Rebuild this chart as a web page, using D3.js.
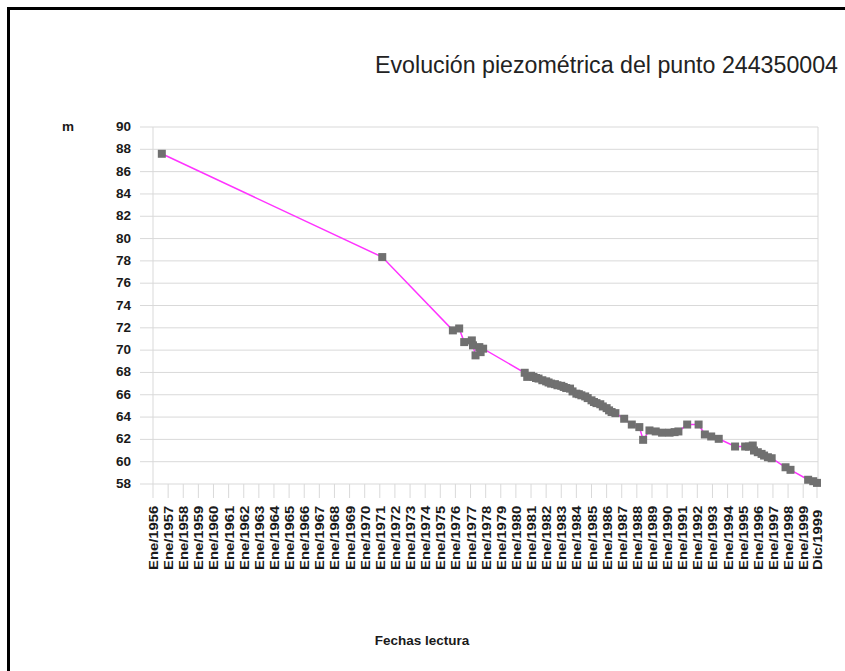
<!DOCTYPE html>
<html><head><meta charset="utf-8">
<script src="https://cdn.jsdelivr.net/npm/d3@7"></script>
<style>html,body{margin:0;padding:0;background:#fff;}svg{display:block;}</style>
</head><body>
<script>
const title = "Evolución piezométrica del punto 244350004";
const yUnit = "m";
const xTitle = "Fechas lectura";
const yTicks = [58,60,62,64,66,68,70,72,74,76,78,80,82,84,86,88,90];
const tickDates = ["1956-01","1957-01","1958-01","1959-01","1960-01","1961-01","1962-01","1963-01","1964-01","1965-01","1966-01","1967-01","1968-01","1969-01","1970-01","1971-01","1972-01","1973-01","1974-01","1975-01","1976-01","1977-01","1978-01","1979-01","1980-01","1981-01","1982-01","1983-01","1984-01","1985-01","1986-01","1987-01","1988-01","1989-01","1990-01","1991-01","1992-01","1993-01","1994-01","1995-01","1996-01","1997-01","1998-01","1999-01","1999-12"];
const tickLabels = ["Ene/1956","Ene/1957","Ene/1958","Ene/1959","Ene/1960","Ene/1961","Ene/1962","Ene/1963","Ene/1964","Ene/1965","Ene/1966","Ene/1967","Ene/1968","Ene/1969","Ene/1970","Ene/1971","Ene/1972","Ene/1973","Ene/1974","Ene/1975","Ene/1976","Ene/1977","Ene/1978","Ene/1979","Ene/1980","Ene/1981","Ene/1982","Ene/1983","Ene/1984","Ene/1985","Ene/1986","Ene/1987","Ene/1988","Ene/1989","Ene/1990","Ene/1991","Ene/1992","Ene/1993","Ene/1994","Ene/1995","Ene/1996","Ene/1997","Ene/1998","Ene/1999","Dic/1999"];

const readDates = ["1956-08","1971-03","1975-11","1976-04","1976-08","1977-02","1977-03","1977-05","1977-08","1977-09","1977-11",
"1980-08","1980-10","1981-01","1981-03","1981-05","1981-07","1981-10","1982-01","1982-03","1982-05","1982-08","1982-10",
"1983-01","1983-03","1983-05","1983-08","1983-10","1984-01","1984-03","1984-05","1984-08","1984-10","1985-01","1985-03",
"1985-05","1985-08","1985-10","1986-01","1986-03","1986-05","1986-08",
"1987-03","1987-09","1988-03","1988-06","1988-11","1989-04","1989-09","1990-03","1990-07","1990-10","1991-05","1992-02",
"1992-07","1992-12","1993-06","1994-07","1995-03","1995-06","1995-09","1995-10","1996-01","1996-04","1996-06","1996-09",
"1996-12","1997-11","1998-03","1999-05","1999-09","1999-12"];
const levels = [87.6,78.34,71.77,71.94,70.72,70.87,70.43,69.53,70.27,69.82,70.13,
67.97,67.6,67.7,67.6,67.5,67.45,67.3,67.2,67.1,67.0,66.95,66.85,
66.8,66.7,66.6,66.55,66.3,66.1,66.05,65.95,65.85,65.7,65.5,65.35,
65.25,65.15,64.95,64.8,64.6,64.45,64.35,
63.85,63.33,63.1,61.96,62.8,62.71,62.6,62.6,62.65,62.71,63.33,63.33,
62.44,62.26,62.05,61.36,61.36,61.35,61.45,61.0,60.85,60.7,60.55,60.4,
60.31,59.5,59.27,58.38,58.25,58.1];

const parse = d3.timeParse("%Y-%m");
const W = 845, H = 671;
const svg = d3.select("body").append("svg").attr("width", W).attr("height", H)
  .style("font-family", "'Liberation Sans', Arial, sans-serif");
svg.append("rect").attr("width", W).attr("height", H).attr("fill", "#fff");

// frame
svg.append("rect").attr("x", 7).attr("y", 7).attr("width", W - 7).attr("height", 3).attr("fill", "#000");
svg.append("rect").attr("x", 7).attr("y", 7).attr("width", 3).attr("height", H - 7).attr("fill", "#000");

const x = d3.scaleTime().domain([parse(tickDates[0]), parse(tickDates[tickDates.length - 1])]).range([153, 817]);
const y = d3.scaleLinear().domain([58, 90]).range([484, 127]);
const grid = "#d9d9d9";

// horizontal gridlines
svg.append("g").selectAll("line").data(yTicks).join("line")
  .attr("x1", 140).attr("x2", 818).attr("y1", d => y(d)).attr("y2", d => y(d))
  .attr("stroke", grid).attr("stroke-width", 1);
// vertical axis and right edge
svg.append("line").attr("x1", 153).attr("x2", 153).attr("y1", y(90)).attr("y2", y(58)).attr("stroke", grid);
svg.append("line").attr("x1", 818).attr("x2", 818).attr("y1", y(90)).attr("y2", y(58)).attr("stroke", grid);
// x ticks
svg.append("g").selectAll("line").data(tickDates).join("line")
  .attr("x1", d => x(parse(d))).attr("x2", d => x(parse(d)))
  .attr("y1", y(58)).attr("y2", y(58) + 14).attr("stroke", grid);

// y labels
svg.append("g").selectAll("text").data(yTicks).join("text")
  .attr("x", 131).attr("y", d => y(d) + 4).attr("text-anchor", "end")
  .attr("font-size", 13.5).attr("font-weight", "bold").attr("fill", "#1a1a1a").text(d => d);
svg.append("text").attr("x", 62).attr("y", y(90) + 4).attr("font-size", 13.5)
  .attr("font-weight", "bold").attr("fill", "#1a1a1a").text(yUnit);

// x labels
svg.append("g").selectAll("text").data(tickDates).join("text")
  .attr("transform", (d) => `translate(${x(parse(d)) + 5},570) rotate(-90) scale(1.1,1)`)
  .attr("text-anchor", "start").attr("font-size", 13.5).attr("font-weight", "bold").attr("fill", "#1a1a1a")
  .text((d, i) => tickLabels[i]);

// title
svg.append("text").attr("x", 838).attr("y", 73).attr("text-anchor", "end")
  .attr("font-size", 23).attr("textLength", 463).attr("lengthAdjust", "spacingAndGlyphs")
  .attr("fill", "#222").text(title);
svg.append("text").attr("x", 422).attr("y", 645).attr("text-anchor", "middle")
  .attr("font-size", 13.5).attr("font-weight", "bold").attr("fill", "#1a1a1a").text(xTitle);

// data
const pts = readDates.map((d, i) => ({ date: parse(d), v: levels[i] }));
svg.append("path").datum(pts)
  .attr("d", d3.line().x(d => x(d.date)).y(d => y(d.v)))
  .attr("fill", "none").attr("stroke", "#ff33ff").attr("stroke-width", 1.5);
const ms = 8;
svg.append("g").selectAll("rect").data(pts).join("rect")
  .attr("x", d => x(d.date) - ms / 2).attr("y", d => y(d.v) - ms / 2)
  .attr("width", ms).attr("height", ms).attr("fill", "#707070");
</script>
</body></html>
